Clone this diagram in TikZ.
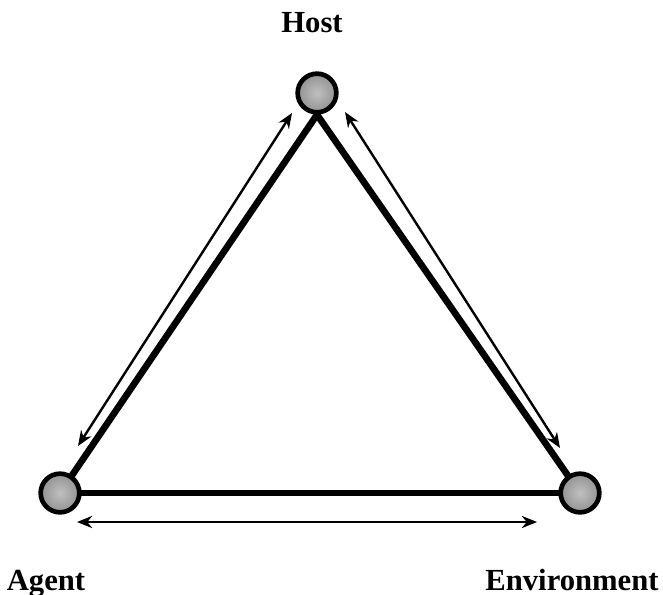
\documentclass[tikz,border=0pt]{standalone}
\usepackage{fontspec}
\setmainfont{Liberation Serif}
\usetikzlibrary{positioning, arrows.meta, calc}
\tikzset{
  hub/.style={circle, draw=black, line width=3.5pt, minimum size=29pt,
    inner sep=0pt, shading=radial, inner color=gray!50, outer color=gray!85},
  edge/.style={line width=5pt, line cap=round},
  link/.style={{Stealth[length=4mm, width=3.2mm]}-{Stealth[length=4mm, width=3.2mm]},
    line width=1.8pt},
  lbl/.style={font=\bfseries\fontsize{23}{26}\selectfont, inner sep=0pt, anchor=base},
}
\begin{document}
\begin{tikzpicture}[x=0.75pt, y=-0.75pt]
  \useasboundingbox (0,0) rectangle (663,595);
  \node[hub] (host) at (317,93) {};
  \node[hub] (agent) at (60,493) {};
  \node[hub] (env) at (580,493) {};
  \node[lbl] (hostlbl) at (312,33) {Host};
  \node[lbl] (agentlbl) at (46,590) {Agent};
  \node[lbl] (envlbl) at (572,590) {Environment};
  % triangle
  \draw[edge] (host.south) -- (agent);
  \draw[edge] (host.south) -- (env);
  \draw[edge] (agent) -- (env);
  % exchanges
  \coordinate (al1) at ($(agent)+(18,-47)$);
  \coordinate (al2) at ($(host)+(-25,20)$);
  \coordinate (ar1) at ($(host)+(28,19)$);
  \coordinate (ar2) at ($(env)+(-20,-45)$);
  \coordinate (ab1) at ($(agent)+(17,29)$);
  \coordinate (ab2) at ($(env)+(-43,29)$);
  \draw[link] (al1) -- (al2);
  \draw[link] (ar1) -- (ar2);
  \draw[link] (ab1) -- (ab2);
\end{tikzpicture}
\end{document}
